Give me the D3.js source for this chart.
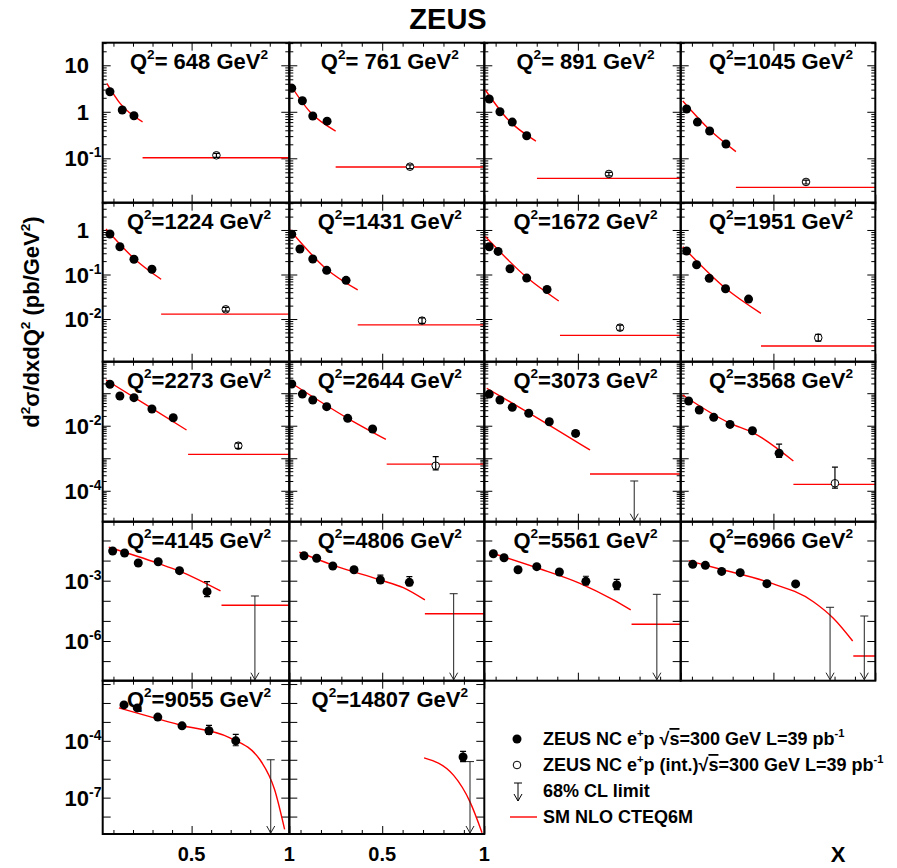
<!DOCTYPE html>
<html><head><meta charset="utf-8">
<script src="https://cdn.jsdelivr.net/npm/d3@7"></script>
<style>
body{margin:0;background:#fff}
svg text{font-family:"Liberation Sans",Arial,Helvetica,sans-serif;font-weight:bold;fill:#000}
</style>
</head><body>
<svg id="chart" width="897" height="868"></svg>
<script>
// ---------------- DATA ----------------
const q2Labels = ["648","761","891","1045","1224","1431","1672","1951","2273","2644","3073","3568","4145","4806","5561","6966","9055","14807"];

// ZEUS NC e+p measured points: [x, sigma, errLow, errHigh] (errors only where visible)
const zeusPoints = [
  [[0.082,2.7],[0.145,1.09],[0.205,0.82]],
  [[0.057,3.2],[0.109,1.73],[0.160,0.81],[0.230,0.63]],
  [[0.069,1.88],[0.121,1.0],[0.181,0.60],[0.251,0.306]],
  [[0.074,1.15],[0.127,0.60],[0.187,0.386],[0.267,0.203]],
  [[0.082,0.81],[0.133,0.42],[0.205,0.22],[0.297,0.131]],
  [[0.057,0.80],[0.097,0.374],[0.160,0.223],[0.228,0.124],[0.323,0.074]],
  [[0.069,0.42],[0.112,0.33],[0.170,0.135],[0.251,0.083],[0.350,0.046]],
  [[0.074,0.337],[0.123,0.166],[0.185,0.082],[0.265,0.048],[0.378,0.028]],
  [[0.082,0.188],[0.133,0.082],[0.205,0.073],[0.297,0.0327],[0.406,0.0176]],
  [[0.057,0.192],[0.109,0.094],[0.160,0.0618],[0.228,0.0385],[0.331,0.0169],[0.453,0.0079,0.0066,0.0094]],
  [[0.069,0.094],[0.121,0.0618],[0.181,0.0368],[0.261,0.0241],[0.361,0.0133],[0.489,0.0058,0.0048,0.0070]],
  [[0.084,0.0575],[0.136,0.0304],[0.207,0.0181],[0.287,0.011],[0.397,0.0070],[0.528,0.00142,0.00107,0.0027]],
  [[0.096,0.030],[0.157,0.0239],[0.227,0.0076],[0.329,0.0088],[0.438,0.00315],[0.579,2.84e-4,1.6e-4,8.9e-4]],
  [[0.117,0.0175],[0.179,0.013],[0.258,0.0054],[0.362,0.00352],[0.491,0.00108,7.5e-4,1.9e-3],[0.633,8.3e-4,5.6e-4,1.58e-3]],
  [[0.089,0.022],[0.141,0.0139],[0.209,0.0035],[0.300,0.005],[0.410,0.0027],[0.539,9.3e-4,6.2e-4,1.66e-3],[0.689,6.1e-4,3.6e-4,1.17e-3]],
  [[0.104,0.0065],[0.166,0.0058],[0.246,0.0029],[0.337,0.0025],[0.468,7.1e-4,5.6e-4,9.5e-4],[0.609,6.9e-4]],
  [[0.154,7.9e-3],[0.222,5.5e-3],[0.327,1.8e-3],[0.451,6.2e-4],[0.589,3.4e-4,2.2e-4,6.5e-4],[0.726,1.0e-4,5.5e-5,2.2e-4]],
  [[0.896,1.4e-5,8e-6,2.8e-5]]
];

// SM NLO CTEQ6M prediction, sampled along each curve: [x, sigma]
const smCurves = [
  [[0.066,4.1],[0.134,1.52],[0.249,0.61]],
  [[0.045,4.1],[0.146,1.0],[0.272,0.386]],
  [[0.050,2.94],[0.160,0.68],[0.296,0.235]],
  [[0.055,1.71],[0.187,0.41],[0.316,0.139]],
  [[0.062,1.05],[0.205,0.23],[0.344,0.078]],
  [[0.045,1.04],[0.228,0.131],[0.380,0.045]],
  [[0.050,0.71],[0.251,0.0865],[0.407,0.0254]],
  [[0.055,0.42],[0.265,0.049],[0.439,0.0134]],
  [[0.062,0.255],[0.297,0.0343],[0.474,0.0074]],
  [[0.045,0.226],[0.331,0.0169],[0.518,0.0038]],
  [[0.057,0.142],[0.261,0.025],[0.559,0.00179]],
  [[0.055,0.088],[0.287,0.0119],[0.397,0.0063],[0.598,8.2e-4]],
  [[0.076,0.046],[0.329,0.0073],[0.438,0.0030],[0.648,3.1e-4]],
  [[0.094,0.026],[0.258,0.006],[0.491,0.00108],[0.603,4.5e-4],[0.709,1.1e-4]],
  [[0.069,0.026],[0.300,0.0044],[0.510,7.4e-4],[0.673,1.1e-4],[0.757,3.5e-5]],
  [[0.084,0.0099],[0.246,0.0036],[0.467,8.9e-4],[0.696,9e-5],[0.794,1.35e-5],[0.889,1e-6]],
  [[0.128,5.5e-3],[0.44,6.9e-4],[0.696,1.45e-4],[0.85,1e-5],[0.925,2.6e-7],[0.976,2.1e-9]],
  [[0.705,1.26e-5],[0.85,1.5e-6],[0.93,6e-8],[0.989,1.4e-9]]
];

// SM prediction for the integrated high-x bin: [xLow, sigma] (null = none)
const smIntBins = [
  [0.249,0.103],[0.272,0.065],[0.301,0.037],[0.316,0.0237],
  [0.344,0.0129],[0.380,0.0074],[0.413,0.0043],[0.439,0.00247],
  [0.482,0.00132],[0.522,6.6e-4],[0.559,3.27e-4],[0.598,1.57e-4],
  [0.653,6.0e-5],[0.709,2.28e-5],[0.761,6.8e-6],[0.892,1.8e-7],
  null,null
];

// ZEUS integrated measurement: [x, sigma, errLow, errHigh] (null = none)
const zeusIntPoints = [
  [0.627,0.116,0.105,0.128],[0.636,0.066,0.060,0.072],[0.651,0.046,0.042,0.050],[0.660,0.031,0.028,0.034],
  [0.675,0.0165,0.0150,0.0182],[0.695,0.0092,0.0080,0.0106],[0.705,0.0064,0.0056,0.0073],[0.720,0.0038,0.0032,0.0045],
  [0.739,0.00243,0.0020,0.0029],[0.762,5.9e-4,4.4e-4,1.12e-3],null,[0.802,1.7e-4,1.2e-4,5.3e-4],
  null,null,null,null,null,null
];

// 68% CL upper limits: [x, limit]
const clLimits = [
  [],[],[],[],[],[],[],[],[],[],
  [[0.774,2.0e-4]],[],
  [[0.824,1.73e-4]],[[0.850,2.25e-4]],[[0.884,2.1e-4]],[[0.778,4.75e-5],[0.946,1.75e-5]],
  [[0.905,1.0e-5]],[[0.93,8e-6]]
];

// y range per row of panels
const rowRanges = [[0.0111,30.6],[1.1e-3,4.1],[1.12e-5,0.93],[1.06e-8,0.86],[1.2e-9,0.15]];
// labelled decades per row (exponents)
const rowLabelExps = [[1,0,-1],[0,-1,-2],[-2,-4],[-3,-6],[-4,-7]];
const rowMinorTicks = [true,true,true,false,false];
const xDomain = [0.045,1.0];
const xMajorTicks = [0.5,1.0];
const xMinorTicks = [0.1,0.2,0.3,0.4,0.6,0.7,0.8,0.9];
const xTickLabels = ["0.5","1"];

const legendLabels = [
  [["ZEUS NC e"],["+","sup"],["p "],["\u221A"],["s","over"],["=300 GeV L=39 pb"],["-1","sup"]],
  [["ZEUS NC e"],["+","sup"],["p (int.)"],["\u221A"],["s","over"],["=300 GeV L=39 pb"],["-1","sup"]],
  [["68% CL limit"]],
  [["SM NLO CTEQ6M"]]
];

// ---------------- LAYOUT ----------------
const colEdges = [102.7, 289.3, 484.3, 680.7, 875.3];
const rowEdges = [42.7, 202.7, 361.7, 521.7, 680.7, 834];
const RED = "#ff0000";

const svg = d3.select("#chart");
const defs = svg.append("defs");

function rich(sel, parts, size){
  let pend = 0;
  parts.forEach(p=>{
    const [t, kind] = p;
    const ts = sel.append("tspan").text(t);
    let dy = pend;
    if(kind==="sup"){ dy += -size*0.42; pend = size*0.42; ts.attr("font-size",size*0.62); }
    else pend = 0;
    if(dy!==0) ts.attr("dy",dy);
    if(kind==="over"){ ts.style("text-decoration","overline"); }
  });
}

// title
svg.append("text").attr("x",448).attr("y",29).attr("text-anchor","middle").attr("font-size",29).text("ZEUS");

// y-axis title
const yt = svg.append("text").attr("transform","translate(39,322) rotate(-90)").attr("text-anchor","middle").attr("font-size",22);
rich(yt,[["d"],["2","sup"],["\u03C3/dxdQ"],["2","sup"],[" (pb/GeV"],["2","sup"],[")"]],22);

q2Labels.forEach((q, i)=>{
  const r = Math.floor(i/4), c = i%4;
  const x0 = colEdges[c], x1 = colEdges[c+1], y0 = rowEdges[r], y1 = rowEdges[r+1];
  const x = d3.scaleLinear().domain(xDomain).range([x0,x1]);
  const y = d3.scaleLog().domain(rowRanges[r]).range([y1,y0]);
  const g = svg.append("g");
  const cid = "clip"+i;
  defs.append("clipPath").attr("id",cid).append("rect").attr("x",x0).attr("y",y0).attr("width",x1-x0).attr("height",y1-y0);

  // ticks via d3 axes (inward)
  const lo = Math.ceil(Math.log10(rowRanges[r][0])), hi = Math.floor(Math.log10(rowRanges[r][1]));
  const majors = d3.range(lo, hi+1).map(e=>Math.pow(10,e));
  const minors = [];
  if(rowMinorTicks[r]){
    for(let e=lo-1;e<=hi;e++) for(let m=2;m<=9;m++){const v=m*Math.pow(10,e); if(v>rowRanges[r][0]&&v<rowRanges[r][1]) minors.push(v);}
  }
  const addAxis = (axis, tr)=>{
    const a = g.append("g").attr("transform",tr).call(axis);
    a.select(".domain").remove(); a.selectAll("text").remove();
    a.selectAll("line").attr("stroke","#000").attr("stroke-width",1);
  };
  addAxis(d3.axisLeft(y).tickValues(majors).tickSize(-8), `translate(${x0},0)`);
  addAxis(d3.axisLeft(y).tickValues(minors).tickSize(-4), `translate(${x0},0)`);
  addAxis(d3.axisRight(y).tickValues(majors).tickSize(-8), `translate(${x1},0)`);
  addAxis(d3.axisRight(y).tickValues(minors).tickSize(-4), `translate(${x1},0)`);
  addAxis(d3.axisBottom(x).tickValues(xMajorTicks).tickSize(-8), `translate(0,${y1})`);
  addAxis(d3.axisBottom(x).tickValues(xMinorTicks).tickSize(-4), `translate(0,${y1})`);
  addAxis(d3.axisTop(x).tickValues(xMajorTicks).tickSize(-8), `translate(0,${y0})`);
  addAxis(d3.axisTop(x).tickValues(xMinorTicks).tickSize(-4), `translate(0,${y0})`);

  const pg = g.append("g").attr("clip-path",`url(#${cid})`);
  // SM curve
  pg.append("path").datum(smCurves[i])
    .attr("d", d3.line().x(d=>x(d[0])).y(d=>y(d[1])).curve(d3.curveMonotoneX))
    .attr("fill","none").attr("stroke",RED).attr("stroke-width",1.4);
  // integrated-bin prediction
  if(smIntBins[i]){
    pg.append("line").attr("x1",x(smIntBins[i][0])).attr("x2",x(1.0))
      .attr("y1",y(smIntBins[i][1])).attr("y2",y(smIntBins[i][1]))
      .attr("stroke",RED).attr("stroke-width",1.4);
  }
  // error bars
  const ebar = (d)=>{
    if(d.length<4) return;
    pg.append("line").attr("x1",x(d[0])).attr("x2",x(d[0])).attr("y1",y(d[2])).attr("y2",y(d[3])).attr("stroke","#000").attr("stroke-width",1.2);
    [d[2],d[3]].forEach(v=>pg.append("line").attr("x1",x(d[0])-3).attr("x2",x(d[0])+3).attr("y1",y(v)).attr("y2",y(v)).attr("stroke","#000").attr("stroke-width",1.2));
  };
  zeusPoints[i].forEach(ebar);
  pg.selectAll("circle.pt").data(zeusPoints[i]).join("circle").attr("class","pt")
    .attr("cx",d=>x(d[0])).attr("cy",d=>y(d[1])).attr("r",4.5).attr("fill","#000");
  if(zeusIntPoints[i]){
    const d = zeusIntPoints[i];
    pg.append("circle").attr("cx",x(d[0])).attr("cy",y(d[1])).attr("r",3.8).attr("fill","#fff").attr("stroke","#000").attr("stroke-width",1);
    ebar(d);
  }
  // CL limits (arrows)
  clLimits[i].forEach(d=>{
    const xx = x(d[0]), yt0 = y(d[1]), yb = y1-1;
    pg.append("line").attr("x1",xx).attr("x2",xx).attr("y1",yt0).attr("y2",yb).attr("stroke","#222").attr("stroke-width",1);
    pg.append("line").attr("x1",xx-4).attr("x2",xx+4).attr("y1",yt0).attr("y2",yt0).attr("stroke","#222").attr("stroke-width",1);
    pg.append("path").attr("d",`M${xx-4},${yb-7}L${xx},${yb}L${xx+4},${yb-7}`).attr("fill","none").attr("stroke","#222").attr("stroke-width",1);
  });

  // frame
  g.append("rect").attr("x",x0).attr("y",y0).attr("width",x1-x0).attr("height",y1-y0)
    .attr("fill","none").attr("stroke","#000").attr("stroke-width",2);

  // Q2 label
  const lt = g.append("text").attr("x",(x0+x1)/2+3).attr("y",y0+26).attr("text-anchor","middle").attr("font-size",22);
  rich(lt,[["Q"],["2","sup"],["="+(q.length<4?" ":"")+q+" GeV"],["2","sup"]],22);

  // y tick labels on first column
  if(c===0){
    rowLabelExps[r].forEach(e=>{
      const yy = y(Math.pow(10,e));
      const base = e===0 ? "1" : "10";
      svg.append("text").attr("x",89).attr("y",yy+8).attr("text-anchor","end").attr("font-size",22).text(base);
      if(e!==0 && e!==1){
        svg.append("text").attr("x",89).attr("y",yy-1).attr("font-size",14).text(String(e));
      }
    });
  }
  // x tick labels on bottom row
  if(r===4){
    xMajorTicks.forEach((v,k)=>{
      svg.append("text").attr("x",x(v)).attr("y",861).attr("text-anchor","middle").attr("font-size",20).text(xTickLabels[k]);
    });
  }
});

// X axis title
svg.append("text").attr("x",838).attr("y",862).attr("text-anchor","middle").attr("font-size",22).text("X");

// legend
const legY = [745, 771, 797, 823];
const lg = svg.append("g");
lg.append("circle").attr("cx",517).attr("cy",legY[0]-6).attr("r",4.5).attr("fill","#000");
lg.append("circle").attr("cx",517).attr("cy",legY[1]-6).attr("r",3.8).attr("fill","#fff").attr("stroke","#000");
lg.append("line").attr("x1",518).attr("x2",518).attr("y1",legY[2]-14).attr("y2",legY[2]+4).attr("stroke","#000");
lg.append("line").attr("x1",514).attr("x2",522).attr("y1",legY[2]-14).attr("y2",legY[2]-14).attr("stroke","#000");
lg.append("path").attr("d",`M514,${legY[2]-3}L518,${legY[2]+4}L522,${legY[2]-3}`).attr("fill","none").attr("stroke","#000");
lg.append("line").attr("x1",510).attr("x2",537).attr("y1",legY[3]-6).attr("y2",legY[3]-6).attr("stroke",RED).attr("stroke-width",1.4);
legendLabels.forEach((parts,k)=>{
  const t = lg.append("text").attr("x",543).attr("y",legY[k]).attr("font-size",18);
  rich(t, parts, 18);
});
</script>
</body></html>
